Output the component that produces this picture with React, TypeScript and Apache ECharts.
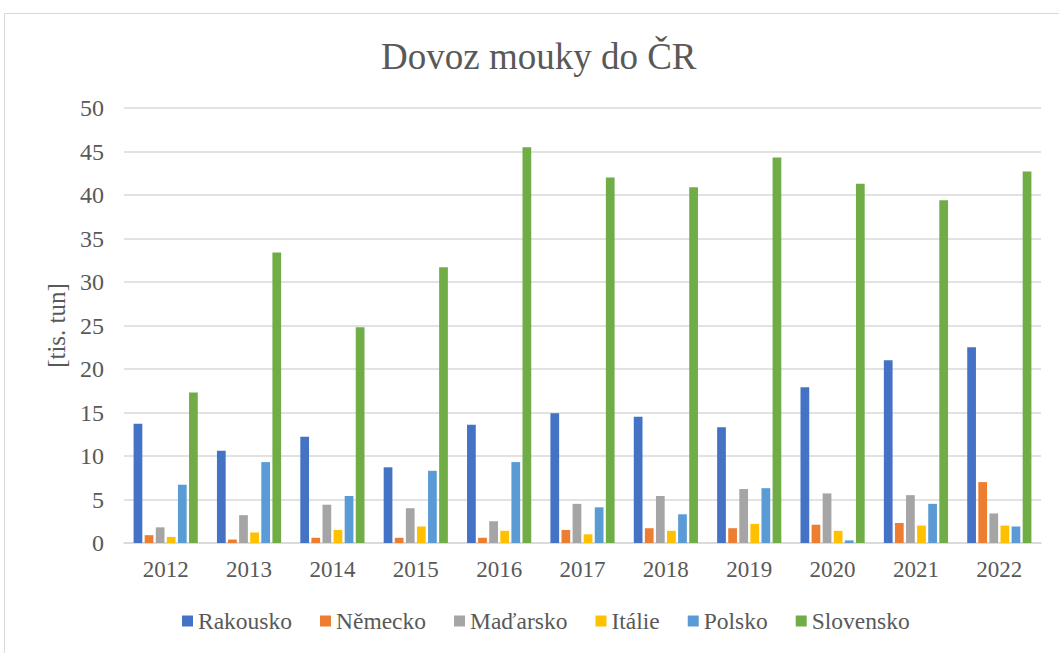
import React, { useEffect, useRef } from "react";
import * as echarts from "echarts";

const years = ["2012", "2013", "2014", "2015", "2016", "2017", "2018", "2019", "2020", "2021", "2022"];
const rakousko = [13.7, 10.6, 12.2, 8.7, 13.6, 14.9, 14.5, 13.3, 17.9, 21.0, 22.5];
const nemecko = [0.9, 0.4, 0.6, 0.6, 0.6, 1.5, 1.7, 1.7, 2.1, 2.3, 7.0];
const madarsko = [1.8, 3.2, 4.4, 4.0, 2.5, 4.5, 5.4, 6.2, 5.7, 5.5, 3.4];
const italie = [0.7, 1.2, 1.5, 1.9, 1.4, 1.0, 1.4, 2.2, 1.4, 2.0, 2.0];
const polsko = [6.7, 9.3, 5.4, 8.3, 9.3, 4.1, 3.3, 6.3, 0.3, 4.5, 1.9];
const slovensko = [17.3, 33.4, 24.8, 31.7, 45.5, 42.0, 40.9, 44.3, 41.3, 39.4, 42.7];

const seriesNames = ["Rakousko", "Německo", "Maďarsko", "Itálie", "Polsko", "Slovensko"];
const seriesData = [rakousko, nemecko, madarsko, italie, polsko, slovensko];
const colors = ["#4472C4", "#ED7D31", "#A5A5A5", "#FFC000", "#5B9BD5", "#70AD47"];

const FONT = "Liberation Serif";
const TXT = "#595959";

export default function App() {
  const ref = useRef<HTMLDivElement>(null);
  useEffect(() => {
    if (!ref.current) return;
    const chart = echarts.init(ref.current, null, { renderer: "svg" });
    chart.setOption({
      animation: false,
      color: colors,
      textStyle: { fontFamily: FONT, color: TXT },
      title: {
        text: "Dovoz mouky do ČR",
        left: 376,
        top: 33,
        textStyle: { fontFamily: FONT, fontSize: 37, fontWeight: "normal", color: TXT },
      },
      graphic: [
        {
          type: "rect",
          shape: { x: 4.5, y: 13.5, width: 1100, height: 700 },
          style: { fill: "none", stroke: "#d9d9d9", lineWidth: 1 },
          silent: true,
        },
      ],
      legend: {
        left: 177,
        top: 604,
        icon: "rect",
        itemWidth: 11,
        itemHeight: 11,
        itemGap: 28,
        textStyle: { fontFamily: FONT, fontSize: 23.5, color: TXT },
        data: seriesNames,
      },
      grid: { left: 124, right: 18, top: 108, bottom: 110 },
      xAxis: {
        type: "category",
        data: years,
        axisLine: { lineStyle: { color: "#d9d9d9", width: 1.5 } },
        axisTick: { show: false },
        axisLabel: { fontFamily: FONT, fontSize: 23, color: TXT, margin: 15 },
      },
      yAxis: {
        type: "value",
        min: 0,
        max: 50,
        interval: 5,
        name: "[tis. tun]",
        nameLocation: "middle",
        nameGap: 54,
        nameTextStyle: { fontFamily: FONT, fontSize: 25, color: TXT },
        axisLine: { show: false },
        axisTick: { show: false },
        splitLine: { lineStyle: { color: "#d9d9d9", width: 1.5 } },
        axisLabel: { fontFamily: FONT, fontSize: 24, color: TXT, margin: 20 },
      },
      series: seriesNames.map((name, i) => ({
        name,
        type: "bar",
        data: seriesData[i],
        barGap: "27%",
        barCategoryGap: "23%",
        itemStyle: { color: colors[i] },
      })),
    });
    return () => chart.dispose();
  }, []);
  return (
    <div
      ref={ref}
      style={{ position: "fixed", left: 0, top: 0, width: 1059, height: 653, background: "#fff" }}
    />
  );
}
